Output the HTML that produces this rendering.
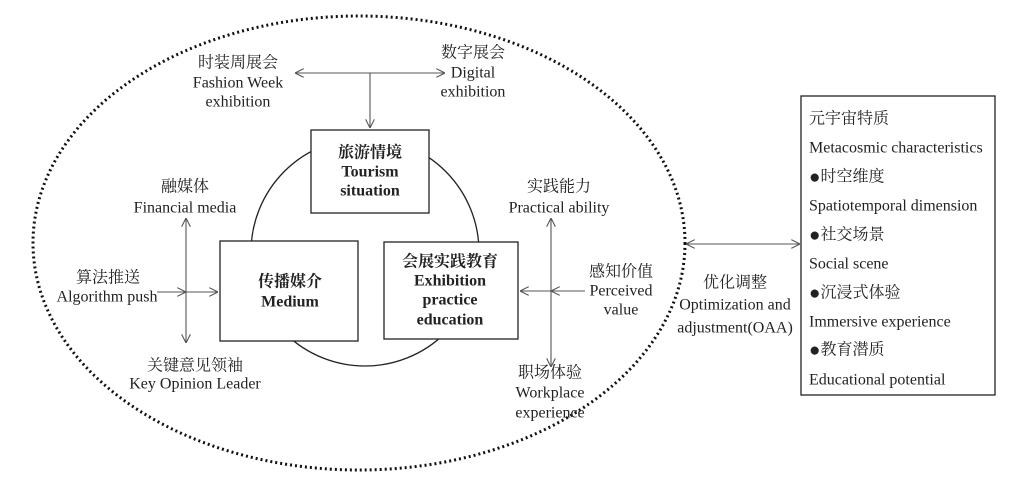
<!DOCTYPE html>
<html><head><meta charset="utf-8"><style>
html,body{margin:0;padding:0;background:#fff}
svg{display:block}
text{font-family:"Liberation Serif","Noto Serif CJK SC",serif;font-size:16px;fill:#222}
.b{font-weight:bold}
.d{font-size:19px}
</style></head><body>
<svg width="1029" height="488" viewBox="0 0 1029 488">
<defs>
<marker id="a" viewBox="0 0 10 10" refX="10" refY="5" markerWidth="9" markerHeight="9" orient="auto-start-reverse" markerUnits="userSpaceOnUse">
<path d="M0,0 L10,5 L0,10" fill="none" stroke="#555" stroke-width="1.2"/></marker>
</defs>
<ellipse cx="359" cy="243" rx="326" ry="227" fill="none" stroke="#111" stroke-width="3" stroke-dasharray="2 3"/>
<circle cx="365" cy="252" r="114" fill="none" stroke="#222" stroke-width="1.3"/>
<g stroke="#222" stroke-width="1.3" fill="#fff">
<rect x="311" y="130" width="118" height="83"/>
<rect x="220" y="241" width="138" height="100"/>
<rect x="384" y="242" width="134" height="97"/>
<rect x="801" y="96" width="194" height="299"/>
</g>
<g stroke="#555" stroke-width="1.1" fill="none">
<line x1="295" y1="73" x2="445" y2="73" marker-start="url(#a)" marker-end="url(#a)"/>
<line x1="370" y1="73" x2="370" y2="128" marker-end="url(#a)"/>
<line x1="186" y1="218" x2="186" y2="343" marker-start="url(#a)" marker-end="url(#a)"/>
<line x1="157" y1="292" x2="186" y2="292" marker-end="url(#a)"/>
<line x1="186" y1="292" x2="218" y2="292" marker-end="url(#a)"/>
<line x1="551" y1="218" x2="551" y2="367" marker-start="url(#a)" marker-end="url(#a)"/>
<line x1="585" y1="291" x2="551" y2="291" marker-end="url(#a)"/>
<line x1="551" y1="291" x2="520" y2="291" marker-end="url(#a)"/>
<line x1="686" y1="244" x2="800" y2="244" marker-start="url(#a)" marker-end="url(#a)"/>
</g>
<g text-anchor="middle" dominant-baseline="central">
<text x="238" y="63">时装周展会</text><text x="238" y="83">Fashion Week</text><text x="238" y="102">exhibition</text>
<text x="473" y="53">数字展会</text><text x="473" y="73">Digital</text><text x="473" y="92">exhibition</text>
<text x="370" y="153" class="b">旅游情境</text><text x="370" y="172" class="b">Tourism</text><text x="370" y="191" class="b">situation</text>
<text x="185" y="187">融媒体</text><text x="185" y="208">Financial media</text>
<text x="559" y="187">实践能力</text><text x="559" y="208">Practical ability</text>
<text x="290" y="282" class="b">传播媒介</text><text x="290" y="302" class="b">Medium</text>
<text x="450" y="262" class="b">会展实践教育</text><text x="450" y="281" class="b">Exhibition</text><text x="450" y="300" class="b">practice</text><text x="450" y="320" class="b">education</text>
<text x="621" y="272">感知价值</text><text x="621" y="291">Perceived</text><text x="621" y="310">value</text>
<text x="550" y="373">职场体验</text><text x="550" y="393">Workplace</text><text x="550" y="413">experience</text>
<text x="108" y="278">算法推送</text><text x="107" y="297">Algorithm push</text>
<text x="195" y="366">关键意见领袖</text><text x="195" y="384">Key Opinion Leader</text>
<text x="735" y="283">优化调整</text><text x="735" y="305">Optimization and</text><text x="735" y="328">adjustment(OAA)</text>
</g>
<g dominant-baseline="central">
<text x="809" y="119">元宇宙特质</text>
<text x="809" y="148">Metacosmic characteristics</text>
<text x="809" y="177"><tspan class="d">●</tspan>时空维度</text>
<text x="809" y="206">Spatiotemporal dimension</text>
<text x="809" y="235"><tspan class="d">●</tspan>社交场景</text>
<text x="809" y="264">Social scene</text>
<text x="809" y="293"><tspan class="d">●</tspan>沉浸式体验</text>
<text x="809" y="322">Immersive experience</text>
<text x="809" y="350"><tspan class="d">●</tspan>教育潜质</text>
<text x="809" y="380">Educational potential</text>
</g>
</svg>
</body></html>
